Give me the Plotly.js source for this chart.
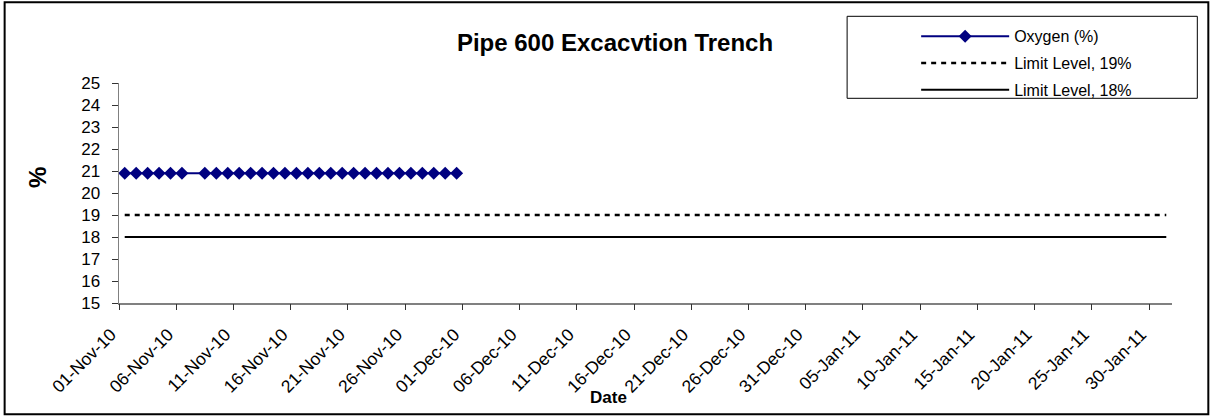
<!DOCTYPE html>
<html>
<head>
<meta charset="utf-8">
<script src="https://cdn.plot.ly/plotly-3.0.1.min.js"></script>
<style>
  html, body { margin: 0; padding: 0; background: #fff; }
  #chart { width: 1213px; height: 418px; }
</style>
</head>
<body>
<div id="chart"></div>
<script>
// ---- Data ----
const oxygenDates = [
  '2010-11-01','2010-11-02','2010-11-03','2010-11-04','2010-11-05','2010-11-06',
  '2010-11-08','2010-11-09','2010-11-10','2010-11-11','2010-11-12','2010-11-13',
  '2010-11-14','2010-11-15','2010-11-16','2010-11-17','2010-11-18','2010-11-19',
  '2010-11-20','2010-11-21','2010-11-22','2010-11-23','2010-11-24','2010-11-25',
  '2010-11-26','2010-11-27','2010-11-28','2010-11-29','2010-11-30'
];
const oxygenValues = [
  20.9,20.9,20.9,20.9,20.9,20.9,
  20.9,20.9,20.9,20.9,20.9,20.9,
  20.9,20.9,20.9,20.9,20.9,20.9,
  20.9,20.9,20.9,20.9,20.9,20.9,
  20.9,20.9,20.9,20.9,20.9
];
const limitDates = ['2010-11-01', '2011-01-31'];
const limit19Values = [19, 19];
const limit18Values = [18, 18];

const chartTitle = 'Pipe 600 Excacvtion Trench';
const xTitle = 'Date';
const yTitle = '%';
const seriesNames = ['Oxygen (%)', 'Limit Level, 19%', 'Limit Level, 18%'];
const xRange = ['2010-11-01', '2011-02-01'];
const yRange = [15, 25];

// Excel date axis plots each day in the middle of its day slot
const mid = d => d + ' 12:00';

// ---- Layout geometry ----
const W = 1213, H = 418;
const L = 119.3, R = 1171.7, T = 82.7, B = 302.7;
const pw = R - L, ph = B - T;
const px = x => (x - L) / pw;
const py = y => (B - y) / ph;

const FONT = 'Liberation Sans, Arial, sans-serif';

const traces = [
  {
    x: limitDates.map(mid), y: limit18Values, name: seriesNames[2],
    type: 'scatter', mode: 'lines', legendgroup: 'c', legendrank: 3,
    xaxis: 'x2', yaxis: 'y',
    line: { color: '#000000', width: 2 }
  },
  {
    x: limitDates.map(mid), y: limit19Values, name: seriesNames[1],
    type: 'scatter', mode: 'lines', legendgroup: 'b', legendrank: 2,
    line: { color: '#000000', width: 2.5, dash: '5px,5px' }
  },
  {
    x: oxygenDates.map(mid), y: oxygenValues, name: seriesNames[0],
    type: 'scatter', mode: 'lines+markers', legendgroup: 'a', legendrank: 1,
    line: { color: '#000080', width: 2 },
    marker: { symbol: 'diamond', size: 10, color: '#000080' }
  }
];

const commonX = {
  type: 'date', range: xRange, automargin: false,
  tick0: '2010-11-01', dtick: 5 * 86400000,
  tickformat: '%d-%b-%y', tickangle: -45,
  showgrid: false, zeroline: false, fixedrange: true
};

const layout = {
  width: W, height: H,
  margin: { l: L, r: W - R, t: T, b: H - B, pad: 0 },
  paper_bgcolor: '#ffffff', plot_bgcolor: '#ffffff',
  font: { family: FONT, color: '#000' },
  showlegend: true,
  title: {
    text: '<b>' + chartTitle + '</b>',
    font: { family: FONT, size: 24, color: '#000' },
    x: 615 / W, xref: 'container', xanchor: 'center',
    y: 1 - 43 / H, yref: 'container', yanchor: 'middle'
  },
  // main axis: labels (pushed down with a long invisible tick)
  xaxis: Object.assign({}, commonX, {
    ticks: 'outside', ticklen: 13, tickcolor: 'rgba(0,0,0,0)', tickwidth: 1,
    showline: true, linecolor: '#808080', linewidth: 1.5,
    ticklabelshift: -8,
    tickfont: { family: FONT, size: 17.5, color: '#000' }
  }),
  // overlay axis: the short visible tick marks only
  xaxis2: Object.assign({}, commonX, {
    overlaying: 'x', matches: 'x', anchor: 'y', side: 'bottom',
    ticks: 'outside', ticklen: 6, tickcolor: '#333', tickwidth: 1,
    showline: false, showticklabels: false
  }),
  yaxis: {
    range: yRange, dtick: 1, tick0: 15, automargin: false,
    ticks: 'outside', ticklen: 6, tickcolor: '#333', tickwidth: 1,
    showline: true, linecolor: '#808080', linewidth: 1.5,
    showgrid: false, zeroline: false,
    tickfont: { family: FONT, size: 17, color: '#000' },
    ticklabelstandoff: 8,
    fixedrange: true
  },
  legend: {
    x: px(916), xanchor: 'left', y: py(19), yanchor: 'top',
    bgcolor: 'rgba(0,0,0,0)', borderwidth: 0,
    font: { family: FONT, size: 16, color: '#000' },
    itemwidth: 88, traceorder: 'grouped', tracegroupgap: 3
  },
  annotations: [
    {
      text: '<b>' + yTitle + '</b>', xref: 'paper', yref: 'paper',
      x: px(38), y: py(177), xanchor: 'center', yanchor: 'middle',
      textangle: -90, showarrow: false,
      font: { family: FONT, size: 24, color: '#000' }
    },
    {
      text: '<b>' + xTitle + '</b>', xref: 'paper', yref: 'paper',
      x: px(609), y: py(397), xanchor: 'center', yanchor: 'middle',
      showarrow: false,
      font: { family: FONT, size: 17, color: '#000' }
    }
  ],
  shapes: [
    { type: 'rect', xref: 'paper', yref: 'paper',
      x0: px(847), x1: px(1197), y0: py(98), y1: py(16),
      line: { color: '#000', width: 1 }, fillcolor: 'rgba(0,0,0,0)', layer: 'below' },
    { type: 'rect', xref: 'paper', yref: 'paper',
      x0: px(5), x1: px(1208), y0: py(414), y1: py(2),
      line: { color: '#000', width: 2 }, fillcolor: 'rgba(0,0,0,0)', layer: 'below' }
  ]
};

Plotly.newPlot('chart', traces, layout, { displayModeBar: false, staticPlot: true });
</script>
</body>
</html>
